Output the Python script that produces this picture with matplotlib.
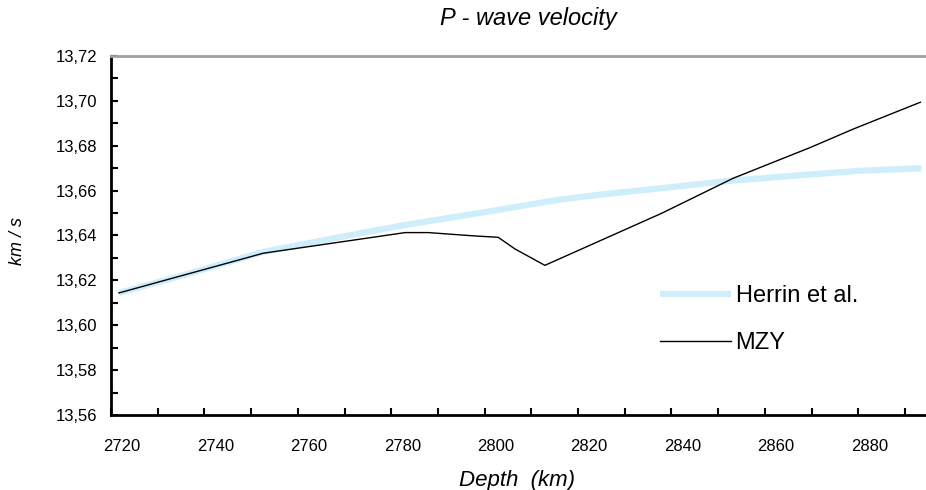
import matplotlib
matplotlib.use("Agg")
import matplotlib.pyplot as plt
from matplotlib.ticker import MultipleLocator, FuncFormatter
from matplotlib.transforms import ScaledTranslation

plt.rcParams['font.family'] = ['Liberation Sans', 'DejaVu Sans']

# Data
herrin_depth = [2721.7, 2735, 2752.6, 2773.3, 2783, 2802.9, 2816, 2824.7, 2837.9, 2853.2, 2869.7, 2880, 2893.5]
herrin_vel = [13.6144, 13.6220, 13.6327, 13.6410, 13.6447, 13.6514, 13.6560, 13.6582, 13.6611, 13.6645, 13.6672, 13.6688, 13.6700]

mzy_depth = [2721.7, 2752.6, 2783.0, 2787.9, 2797.9, 2802.9, 2806.5, 2812.9, 2837.9, 2853.2, 2869.7, 2879.0, 2893.3]
mzy_vel = [13.6144, 13.6321, 13.6413, 13.6413, 13.6398, 13.6392, 13.6340, 13.6267, 13.6499, 13.6655, 13.6792, 13.6875, 13.6994]

series_names = ["Herrin et al.", "MZY"]
title = "P - wave velocity"
xlabel = "Depth  (km)"
ylabel = "km / s"

fig = plt.figure(figsize=(9.26, 4.9), dpi=100)
ax = fig.add_axes([111/926, (490-415)/490, (926-111)/926, (415-56)/490])

ax.plot(herrin_depth, herrin_vel, color='#cdeefa', lw=4.5, solid_capstyle='butt', label=series_names[0])
ax.plot(mzy_depth, mzy_vel, color='black', lw=1.0, label=series_names[1])

ax.set_xlim(2720, 2894.5)
ax.set_ylim(13.56, 13.72)

ax.xaxis.set_major_locator(MultipleLocator(20))
ax.xaxis.set_minor_locator(MultipleLocator(10))
ax.yaxis.set_major_locator(MultipleLocator(0.02))
ax.yaxis.set_minor_locator(MultipleLocator(0.01))
ax.yaxis.set_major_formatter(FuncFormatter(lambda v, p: f"{v:.2f}".replace('.', ',')))
ax.xaxis.set_major_formatter(FuncFormatter(lambda v, p: f"{v:.0f}"))

ax.tick_params(axis='both', which='both', direction='in', length=5, width=1.5, color='black')
ax.tick_params(axis='x', which='major', pad=17, labelsize=12)
ax.tick_params(axis='y', which='major', pad=10, labelsize=12)

for lbl in ax.get_xticklabels():
    lbl.set_transform(lbl.get_transform() + ScaledTranslation(11/100, 0, fig.dpi_scale_trans))

ax.spines['right'].set_visible(False)
ax.spines['top'].set_color('#a0a0a0')
ax.spines['top'].set_linewidth(2)
ax.spines['left'].set_linewidth(2)
ax.spines['bottom'].set_linewidth(2)

fig.text(528/926, 1 - 19/490, title, ha='center', va='center', fontsize=17, style='italic')
fig.text(517/926, 1 - 480/490, xlabel, ha='center', va='center', fontsize=16, style='italic')
fig.text(18/926, 1 - 241/490, ylabel, ha='center', va='center', fontsize=13, style='italic', rotation=90)

leg = fig.legend(loc='upper left', bbox_to_anchor=(660/926, 1 - 285/490), bbox_transform=fig.transFigure,
                 frameon=False, fontsize=17, handlelength=3.0, handletextpad=0.2, labelspacing=1.05,
                 borderpad=0, borderaxespad=0)

fig.savefig("out.png", dpi=100)
